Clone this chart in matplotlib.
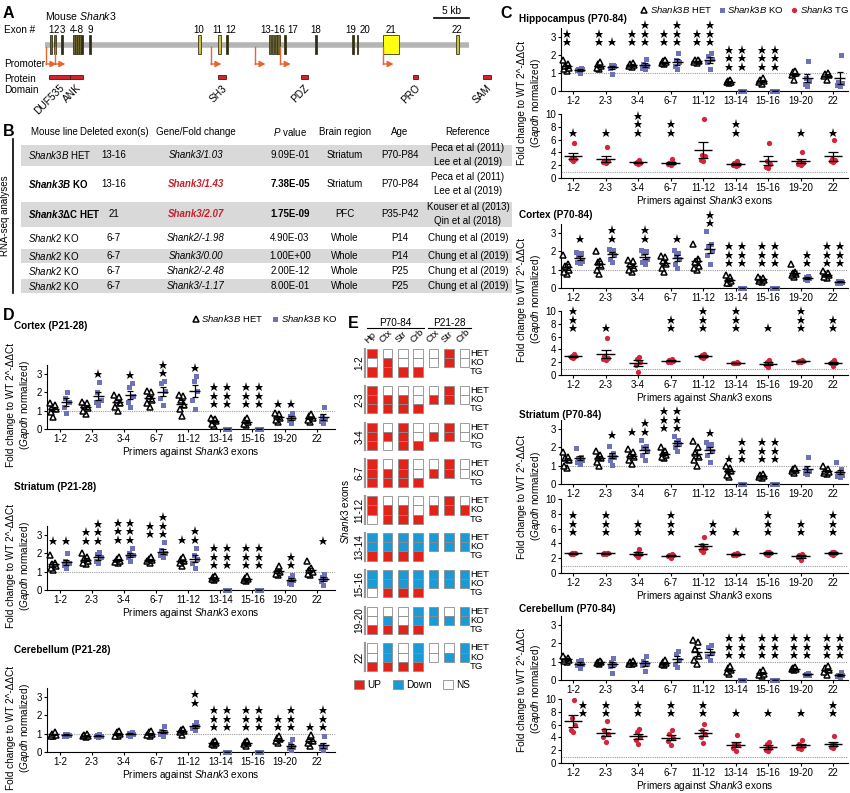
import numpy as np
import matplotlib
matplotlib.use("Agg")
import matplotlib.pyplot as plt
from matplotlib.patches import Rectangle, Patch
from matplotlib.lines import Line2D

plt.rcParams['font.family'] = ['Liberation Sans', 'DejaVu Sans']
plt.rcParams['mathtext.fontset'] = 'custom'
plt.rcParams['mathtext.rm'] = 'Liberation Sans'
plt.rcParams['mathtext.it'] = 'Liberation Sans:italic'
plt.rcParams['mathtext.bf'] = 'Liberation Sans:bold'
plt.rcParams['mathtext.bfit'] = 'Liberation Sans:italic:bold'
plt.rcParams['axes.linewidth'] = 0.8

#############################
# DATA                      #
#############################
primers = ["1-2", "2-3", "3-4", "6-7", "11-12", "13-14", "15-16", "19-20", "22"]

# Panel A: mouse Shank3 gene model, kb from exon 1
exon_start_kb = [0.75, 1.3, 2.35, 3.95, 4.3, 4.6, 4.9, 5.2, 6.3, 21.8, 24.7, 25.9,
                 32.0, 32.4, 32.8, 33.2, 34.2, 38.6, 43.9, 44.5, 48.3, 58.7]
exon_width_kb = [0.3, 0.3, 0.2, 0.3, 0.3, 0.25, 0.2, 0.2, 0.2, 0.45, 0.45, 0.2,
                 0.35, 0.3, 0.3, 0.3, 0.2, 0.2, 0.2, 0.2, 2.3, 0.45]
exon_kind = ['o', 'o', 'd', 'o', 'o', 'o', 'o', 'd', 'd', 'y', 'y', 'd',
             'o', 'o', 'o', 'o', 'd', 'd', 'd', 'd', 'Y', 'y']
exon_label = ['1', '2', '3', '4-8', '9', '10', '11', '12', '13-16', '17', '18', '19', '20', '21', '22']
exon_label_kb = [0.9, 1.6, 2.5, 4.6, 6.4, 22.0, 24.6, 26.5, 32.5, 35.4, 38.7, 43.7, 45.7, 49.4, 58.9]
gene_length_kb = 60.6
promoter_kb = [0.14, 1.4, 23.7, 30.0, 33.6, 48.3]
domain_name = ['DUF535', 'ANK', 'SH3', 'PDZ', 'PRO', 'SAM']
domain_start_kb = [0.64, 3.5, 24.7, 36.5, 52.5, 62.5]
domain_end_kb = [3.5, 5.4, 25.9, 37.5, 53.3, 63.7]

# Panel B: RNA-seq table
tbl_header = ["Mouse line", "Deleted exon(s)", "Gene/Fold change", r"$\it{P}$ value",
              "Brain region", "Age", "Reference"]
tbl_line = [r"$\it{Shank3B}$ HET", r"$\mathbfit{Shank3B}$ KO", r"$\mathbfit{Shank3}$ΔC HET",
            r"$\it{Shank2}$ KO", r"$\it{Shank2}$ KO", r"$\it{Shank2}$ KO", r"$\it{Shank2}$ KO"]
tbl_exons = ["13-16", "13-16", "21", "6-7", "6-7", "6-7", "6-7"]
tbl_gene = ["Shank3/1.03", "Shank3/1.43", "Shank3/2.07", "Shank2/-1.98",
            "Shank3/0.00", "Shank2/-2.48", "Shank3/-1.17"]
tbl_p = ["9.09E-01", "7.38E-05", "1.75E-09", "4.90E-03", "1.00E+00", "2.00E-12", "8.00E-01"]
tbl_region = ["Striatum", "Striatum", "PFC", "Whole", "Whole", "Whole", "Whole"]
tbl_age = ["P70-P84", "P70-P84", "P35-P42", "P14", "P14", "P25", "P25"]
tbl_ref = ["Peca et al (2011)\nLee et al (2019)", "Peca et al (2011)\nLee et al (2019)",
           "Kouser et al (2013)\nQin et al (2018)", "Chung et al (2019)", "Chung et al (2019)",
           "Chung et al (2019)", "Chung et al (2019)"]
tbl_signif = [False, True, True, False, False, False, False]

# Panel C: adult (P70-84) qPCR, fold change to WT
hip_het = [[1.1, 1.25, 1.3, 1.4, 1.5, 1.7], [1.2, 1.3, 1.4, 1.5, 1.6], [1.35, 1.4, 1.45, 1.5, 1.55],
           [1.5, 1.55, 1.6, 1.65, 1.7], [1.55, 1.6, 1.65, 1.7, 1.75], [0.45, 0.5, 0.5, 0.55, 0.6],
           [0.4, 0.5, 0.55, 0.6, 0.7], [0.6, 0.9, 1.0, 1.05, 1.1], [0.6, 0.85, 0.9, 0.95, 1.0]]
hip_ko = [[1.0, 1.15, 1.2, 1.25, 1.3], [0.95, 1.3, 1.4, 1.45, 1.45], [1.2, 1.3, 1.4, 1.5, 1.8],
          [1.2, 1.4, 1.6, 1.75, 2.1], [1.2, 1.6, 1.8, 1.95, 2.1], [0, 0, 0, 0, 0],
          [0, 0, 0, 0, 0], [0.3, 0.4, 0.55, 0.7, 1.65], [0.3, 0.35, 0.45, 0.5, 2.0]]
hip_tg = [[2.6, 2.9, 3.0, 3.2, 5.4], [2.4, 2.5, 2.6, 2.7, 4.8], [2.2, 2.3, 2.4, 2.5, 2.8],
          [2.1, 2.2, 2.3, 2.4, 3.0], [2.6, 2.8, 3.4, 3.6, 9.2], [1.9, 2.0, 2.1, 2.3, 2.6],
          [1.6, 1.7, 2.2, 2.6, 5.4], [2.1, 2.2, 2.4, 2.5, 4.0], [2.5, 2.6, 2.8, 3.0, 5.9]]
hip_het_stars = [2, 2, 2, 2, 2, 3, 3, 0, 0]
hip_ko_stars = [0, 1, 3, 3, 3, 3, 3, 0, 0]
hip_tg_stars = [1, 1, 3, 2, 0, 2, 0, 1, 1]

ctx_het = [[0.75, 0.9, 1.0, 1.2, 1.3, 1.8], [0.75, 1.0, 1.2, 1.4, 1.5, 2.0], [0.9, 1.0, 1.1, 1.3, 1.5, 1.55],
           [0.9, 1.1, 1.3, 1.5, 1.7, 1.75], [1.0, 1.1, 1.2, 1.4, 1.6, 2.4], [0.25, 0.3, 0.4, 0.5, 0.6, 0.7],
           [0.35, 0.4, 0.45, 0.5, 0.55, 0.6], [0.6, 0.7, 0.75, 0.8, 0.9, 1.3], [0.55, 0.6, 0.7, 0.75, 0.8, 0.95]]
ctx_ko = [[1.35, 1.4, 1.5, 1.8, 1.9, 1.95], [1.4, 1.6, 1.8, 2.0, 2.1, 2.15], [1.3, 1.4, 1.6, 1.9, 2.0, 2.1],
          [1.1, 1.3, 1.6, 1.8, 1.9, 2.1], [1.3, 1.8, 2.0, 2.3, 2.4, 3.1], [0, 0, 0, 0, 0],
          [0, 0, 0, 0, 0], [0.45, 0.5, 0.55, 0.6, 0.65], [0.25, 0.3, 0.35, 0.4, 0.4]]
ctx_tg = [[2.7, 2.8, 2.9, 3.0, 3.3], [2.4, 2.5, 2.6, 3.0, 5.8], [0.5, 1.6, 2.0, 2.5, 2.8],
          [2.0, 2.1, 2.2, 2.3, 2.5], [2.6, 2.8, 3.0, 3.1, 3.3], [1.8, 1.85, 1.9, 1.95, 2.0],
          [1.2, 1.6, 1.8, 2.0, 2.3], [2.0, 2.1, 2.15, 2.2, 2.3], [1.4, 1.8, 1.9, 2.0, 2.4]]
ctx_het_stars = [0, 0, 0, 0, 0, 3, 3, 0, 3]
ctx_ko_stars = [1, 2, 2, 1, 2, 3, 3, 2, 3]
ctx_tg_stars = [3, 1, 0, 2, 3, 3, 1, 3, 2]

str_het = [[0.9, 1.0, 1.3, 1.4, 1.5, 1.75], [1.0, 1.2, 1.4, 1.5, 1.6, 1.8], [1.1, 1.3, 1.5, 1.6, 1.75, 1.9],
           [1.4, 1.5, 1.6, 1.7, 1.8, 2.0], [1.0, 1.3, 1.5, 1.7, 2.0, 2.35], [0.4, 0.5, 0.7, 0.8, 0.9, 1.0],
           [0.35, 0.4, 0.45, 0.5, 0.55], [0.6, 0.7, 0.75, 0.8, 0.85], [0.55, 0.6, 0.65, 0.7, 0.8, 1.0]]
str_ko = [[1.1, 1.2, 1.3, 1.4, 1.5, 1.95], [1.05, 1.3, 1.5, 1.6, 1.7, 2.1], [1.3, 1.6, 1.8, 2.0, 2.1, 2.4],
          [1.8, 2.0, 2.2, 2.3, 2.4, 2.6], [1.2, 1.6, 1.8, 2.0, 2.2, 2.3], [0, 0, 0, 0, 0],
          [0, 0, 0, 0, 0], [0.55, 0.6, 0.7, 0.8, 1.5], [0.4, 0.45, 0.5, 0.6, 0.8, 1.2]]
str_tg = [[2.6, 2.6, 2.65, 2.7, 2.7], [2.6, 2.6, 2.65, 2.7, 2.75], [2.1, 2.4, 2.6, 2.7, 3.2],
          [2.0, 2.3, 2.4, 2.5, 2.6], [2.9, 3.1, 3.4, 3.8, 4.8], [2.4, 2.5, 2.55, 2.6, 2.7],
          [2.5, 2.6, 2.7, 2.8, 2.9], [1.7, 2.1, 2.3, 2.5, 2.6], [2.5, 2.6, 2.7, 2.8, 2.9]]
str_het_stars = [0, 0, 1, 3, 0, 1, 3, 0, 0]
str_ko_stars = [0, 1, 2, 3, 1, 3, 3, 0, 0]
str_tg_stars = [3, 3, 2, 3, 2, 1, 3, 2, 3]

crb_het = [[1.0, 1.05, 1.1, 1.15, 1.2, 1.3], [0.9, 0.95, 1.0, 1.0, 1.05], [0.85, 0.9, 0.95, 1.0, 1.05],
           [0.8, 0.9, 0.95, 1.0, 1.1], [0.9, 1.1, 1.3, 1.7, 2.1, 2.2], [0.35, 0.45, 0.55, 0.65, 0.75],
           [0.2, 0.3, 0.35, 0.45, 0.55], [0.55, 0.6, 0.62, 0.65, 0.7], [0.3, 0.45, 0.55, 0.65, 0.75]]
crb_ko = [[0.65, 0.8, 0.9, 1.05, 1.1], [0.4, 0.75, 0.9, 1.0, 1.2], [0.5, 0.8, 0.9, 1.05, 1.3],
          [0.7, 0.9, 1.1, 1.4, 1.6], [1.1, 1.3, 1.5, 1.8, 1.9], [0, 0, 0, 0, 0],
          [0, 0, 0, 0, 0], [0.25, 0.3, 0.3, 0.35, 0.4], [0.15, 0.2, 0.25, 0.3, 0.45]]
crb_tg = [[4.8, 5.2, 6.0, 7.0, 9.9], [3.3, 4.0, 4.5, 5.2, 6.6], [3.0, 3.6, 4.0, 4.9, 5.3],
          [2.8, 3.5, 3.9, 4.5, 5.2], [3.2, 4.1, 4.6, 5.2, 6.1], [1.9, 2.3, 2.8, 3.0, 4.4],
          [1.8, 2.0, 2.4, 2.9, 3.3], [2.2, 2.4, 2.6, 2.9, 3.6], [2.3, 2.5, 2.8, 3.0, 4.2]]
crb_het_stars = [0, 0, 0, 0, 0, 3, 3, 3, 3]
crb_ko_stars = [0, 0, 0, 0, 0, 3, 3, 3, 3]
crb_tg_stars = [2, 2, 2, 2, 2, 1, 1, 1, 2]

# Panel D: juvenile (P21-28) qPCR
dctx_het = [[0.65, 0.95, 1.1, 1.2, 1.3, 1.4], [0.8, 1.0, 1.15, 1.3, 1.4, 1.45], [1.0, 1.2, 1.4, 1.6, 1.75, 1.85],
            [1.2, 1.4, 1.6, 1.8, 2.0, 2.1], [0.7, 1.1, 1.3, 1.6, 1.8, 1.85], [0.15, 0.3, 0.45, 0.5, 0.55, 0.6],
            [0.2, 0.3, 0.4, 0.5, 0.6], [0.4, 0.5, 0.6, 0.7, 0.8, 0.85], [0.4, 0.5, 0.6, 0.7, 0.8]]
dctx_ko = [[0.9, 1.2, 1.5, 1.7, 2.05], [1.3, 1.5, 1.6, 2.0, 2.55], [1.2, 1.5, 1.8, 2.3, 2.5],
           [1.3, 1.7, 2.1, 2.5, 2.6], [1.1, 1.6, 2.1, 2.6, 2.9], [0, 0, 0, 0, 0],
           [0, 0, 0, 0, 0], [0.35, 0.5, 0.6, 0.7, 0.9], [0.35, 0.45, 0.55, 0.7, 1.2]]
dctx_het_stars = [0, 0, 0, 0, 0, 3, 3, 1, 0]
dctx_ko_stars = [0, 1, 1, 2, 1, 3, 3, 1, 0]

dstr_het = [[1.1, 1.2, 1.3, 1.4, 1.5, 1.9], [1.4, 1.5, 1.6, 1.7, 1.8, 2.0], [1.5, 1.55, 1.6, 1.7, 1.8],
            [1.5, 1.6, 1.65, 1.7, 1.8], [1.3, 1.45, 1.6, 1.7, 1.8], [0.55, 0.6, 0.65, 0.7, 0.75],
            [0.5, 0.55, 0.6, 0.65, 0.75], [0.8, 0.9, 1.0, 1.1, 1.3], [0.8, 0.9, 1.0, 1.1, 1.2, 1.6]]
dstr_ko = [[1.2, 1.35, 1.45, 1.6, 2.0], [1.45, 1.6, 1.8, 1.95, 2.1], [1.6, 1.8, 1.9, 2.0, 2.3],
           [1.8, 1.9, 2.0, 2.2, 2.6], [1.2, 1.5, 1.7, 1.9, 2.3], [0, 0, 0, 0, 0],
           [0, 0, 0, 0, 0], [0.35, 0.4, 0.55, 0.65, 0.8], [0.3, 0.5, 0.6, 0.7, 0.9]]
dstr_het_stars = [1, 2, 3, 2, 1, 3, 3, 0, 0]
dstr_ko_stars = [1, 3, 3, 3, 2, 3, 3, 2, 1]

dcrb_het = [[0.85, 0.9, 0.95, 1.0, 1.1], [0.8, 0.85, 0.9, 0.95, 1.0], [0.85, 0.9, 1.0, 1.1, 1.15],
            [0.85, 0.95, 1.0, 1.1, 1.15], [0.95, 1.1, 1.15, 1.2, 1.25], [0.4, 0.45, 0.5, 0.55, 0.6],
            [0.35, 0.45, 0.5, 0.55, 0.6], [0.5, 0.6, 0.7, 0.75, 0.85], [0.35, 0.5, 0.6, 0.7, 0.95]]
dcrb_ko = [[0.85, 0.9, 0.95, 1.0, 1.0], [0.8, 0.85, 0.9, 0.95, 1.0], [0.9, 0.95, 1.0, 1.05, 1.1],
           [0.9, 1.0, 1.1, 1.15, 1.4], [1.2, 1.3, 1.4, 1.5, 1.65], [0, 0, 0, 0, 0],
           [0, 0, 0, 0, 0], [0.1, 0.2, 0.3, 0.45, 0.7], [0.1, 0.2, 0.3, 0.4, 0.85]]
dcrb_het_stars = [0, 0, 0, 0, 0, 3, 3, 2, 1]
dcrb_ko_stars = [0, 0, 0, 0, 2, 3, 3, 3, 3]

# Panel E: summary of calls, U=up, D=down, N=n.s.
e_columns = ["Hp", "Ctx", "Str", "Crb", "Ctx", "Str", "Crb"]
e_calls = [
    ["UNU", "NUU", "NNU", "NNU", "NN", "UU", "NN"],
    ["UUU", "NUU", "NUU", "NNU", "NU", "UU", "NN"],
    ["UUU", "NUN", "UUU", "NNU", "NU", "UU", "NN"],
    ["UUU", "NUU", "UUU", "NNU", "NU", "UU", "NN"],
    ["UUN", "NUU", "NUU", "NNU", "NU", "UU", "NU"],
    ["DDU", "DDU", "DDU", "DDU", "DD", "DD", "DD"],
    ["DDN", "DDU", "DDU", "DDU", "DD", "DD", "DD"],
    ["NNU", "NDU", "NNU", "DDU", "DD", "ND", "DD"],
    ["NNU", "DDU", "NNU", "DDU", "NN", "ND", "DD"],
]
e_genotypes = ["HET", "KO", "TG"]

#############################
# STYLE / LAYOUT            #
#############################
W, H = 850, 793
FS = 7.2
TFS = 7.0
KO_COLOR = '#6e72b8'
TG_COLOR = '#d5253c'
UP_COLOR = '#e2231a'
DOWN_COLOR = '#1b9ad6'
HET_STYLE = dict(marker='^', ms=4.2, mfc='white', mec='black', mew=1.1)
KO_STYLE = dict(marker='s', ms=3.6, color=KO_COLOR, mew=0)
TG_STYLE = dict(marker='o', ms=3.8, color=TG_COLOR, mew=0)
JIT = [0.0, -0.07, 0.07, -0.035, 0.035, -0.1, 0.1]

fig = plt.figure(figsize=(W / 100, H / 100), dpi=100)
ov = fig.add_axes([0, 0, 1, 1])
ov.set_xlim(0, W)
ov.set_ylim(H, 0)
ov.axis('off')


def px_axes(x0, y0, x1, y1):
    return fig.add_axes([x0 / W, 1 - y1 / H, (x1 - x0) / W, (y1 - y0) / H])


def letter(x, y, s):
    ov.text(x, y, s, fontsize=11.5, fontweight='bold', ha='left', va='center')


##################################################
# A: gene model                                  #
##################################################
letter(3, 14, "A")
axA = px_axes(0, 0, 500, 110)
axA.set_xlim(-45 / 7, 455 / 7)
axA.set_ylim(110, 0)
axA.axis('off')
axA.plot([0, gene_length_kb], [45, 45], color='#b5b5b5', lw=4, solid_capstyle='butt', zorder=1)
fills = {'d': '#2e2c18', 'o': '#6a6330', 'y': '#c9c43e', 'Y': '#ffff10'}
for s, w, k in zip(exon_start_kb, exon_width_kb, exon_kind):
    axA.add_patch(Rectangle((s, 35), w, 19, fc=fills[k], ec='#3a3719', lw=0.6, zorder=2))
for lab, x in zip(exon_label, exon_label_kb):
    axA.text(x, 30, lab, fontsize=7.0, ha='center', va='center')
orange = '#e8652e'
for p in promoter_kb:
    axA.plot([p, p], [47, 64], color=orange, lw=1, zorder=2)
    axA.annotate('', xy=(p + 1.5, 64), xytext=(p, 64),
                 arrowprops=dict(arrowstyle='-|>,head_length=0.35,head_width=0.18',
                                 color=orange, lw=1, shrinkA=0, shrinkB=0))
for name, s, e in zip(domain_name, domain_start_kb, domain_end_kb):
    axA.add_patch(Rectangle((s, 75), e - s, 4, fc='#d0262b', ec='#5c1010', lw=0.6))
    axA.text((s + e) / 2, 83, name, fontsize=7.3, rotation=45, ha='right', va='top',
             rotation_mode='anchor')
axA.plot([55.6, 60.6], [18, 18], color='k', lw=1.2)
axA.text(58.1, 11, "5 kb", fontsize=7.3, ha='center', va='center')
axA.text(0, 16, r"Mouse $\it{Shank3}$", fontsize=7.6, ha='left', va='center')
for txt, y in [("Exon #", 30), ("Promoter", 64), ("Protein", 79), ("Domain", 90)]:
    ov.text(4, y, txt, fontsize=7.2, ha='left', va='center')

##################################################
# B: RNA-seq table                               #
##################################################
letter(3, 132, "B")
col_x = [54, 114, 196, 290, 345, 400, 468]
row_top = [144.5, 165.5, 202, 226.5, 249, 263, 279]
row_bot = [165.5, 202, 226.5, 249, 263, 279, 293]
for i in range(len(tbl_line)):
    if i % 2 == 0:
        ov.add_patch(Rectangle((21, row_top[i]), 491, row_bot[i] - row_top[i], fc='#d9d9d9', ec='none'))
for h, x in zip(tbl_header, col_x):
    ov.text(x, 132, h, fontsize=TFS, ha='center', va='center')
for i in range(len(tbl_line)):
    y = (row_top[i] + row_bot[i]) / 2
    wt = 'bold' if tbl_signif[i] else 'normal'
    ov.text(28, y, tbl_line[i], fontsize=TFS, ha='left', va='center', fontweight=wt)
    ov.text(col_x[1], y, tbl_exons[i], fontsize=TFS, ha='center', va='center')
    ov.text(col_x[2], y, tbl_gene[i], fontsize=TFS, ha='center', va='center', style='italic',
            fontweight=wt, color='#c8202a' if tbl_signif[i] else 'black')
    ov.text(col_x[3], y, tbl_p[i], fontsize=TFS, ha='center', va='center', fontweight=wt)
    ov.text(col_x[4], y, tbl_region[i], fontsize=TFS, ha='center', va='center')
    ov.text(col_x[5], y, tbl_age[i], fontsize=TFS, ha='center', va='center')
    ov.text(col_x[6], y, tbl_ref[i], fontsize=TFS, ha='center', va='center', linespacing=1.5)
ov.plot([13, 13], [139, 293], color='k', lw=1.2)
ov.text(5, 216, "RNA-seq analyses", fontsize=TFS, rotation=90, ha='center', va='center')


##################################################
# C and D: dot plots                             #
##################################################
def dot_axes(box, xlim, ylim, yticks, xlabel):
    ax = px_axes(*box)
    ax.set_xlim(*xlim)
    ax.set_ylim(*ylim)
    ax.set_yticks(yticks)
    ax.set_xticks(range(len(primers)))
    ax.set_xticklabels(primers)
    for s in ['top', 'right']:
        ax.spines[s].set_visible(False)
    ax.tick_params(labelsize=7.0, length=2.5, width=0.8, pad=1.2)
    ax.axhline(1, color='#9a9a9a', lw=0.8, ls=(0, (1, 1)), zorder=0)
    ax.patch.set_visible(False)
    if xlabel:
        ax.set_xlabel(r"Primers against $\it{Shank3}$ exons", fontsize=FS, labelpad=0.8)
    return ax


def px_per_unit(ax):
    ylo, yhi = ax.get_ylim()
    return ax.get_position().height * H / (yhi - ylo)


def draw_group(ax, x, vals, style, half, cap):
    v = np.asarray(vals, float)
    ax.plot(x + np.array(JIT[:len(v)]), v, ls='none', clip_on=False, zorder=3, **style)
    m = v.mean()
    se = v.std(ddof=1) / np.sqrt(len(v))
    ax.plot([x - half, x + half], [m, m], color='k', lw=1.0, zorder=4, solid_capstyle='butt')
    ax.errorbar(x, m, yerr=se, fmt='none', ecolor='k', elinewidth=0.9, capsize=cap,
                capthick=0.9, zorder=4)


def draw_stars(ax, x, base, n):
    step = 8.5 / px_per_unit(ax)
    for k in range(n):
        ax.plot(x, base + k * step, marker='*', ms=6.5, color='k', mew=0, clip_on=False, zorder=5)


def pair_plot(ax, het, ko, het_stars, ko_stars):
    for i in range(len(primers)):
        draw_group(ax, i - 0.2, het[i], HET_STYLE, 0.17, 2.3)
        draw_group(ax, i + 0.2, ko[i], KO_STYLE, 0.17, 2.3)
        gmax = max(max(het[i]), max(ko[i]))
        base = 1.35 if gmax < 1.4 else max(2.7, gmax + 0.45)
        draw_stars(ax, i - 0.2, base, het_stars[i])
        draw_stars(ax, i + 0.2, base, ko_stars[i])


def tg_plot(ax, tg, tg_stars, base):
    for i in range(len(primers)):
        draw_group(ax, i, tg[i], TG_STYLE, 0.28, 3.4)
        sx = i + 0.3 if max(tg[i]) > base - 0.8 else i
        draw_stars(ax, sx, base, tg_stars[i])


ylab = "Fold change to WT 2^-ΔΔCt\n" + r"($\it{Gapdh}$ normalized)"

# C
letter(500, 13, "C")
c_xlim = (-0.37, 8.46)
c_boxes = [(19, (28, 91), (114, 178), 7.1), (215, (224, 288), (311, 375), 7.3),
           (415, (420, 484), (499, 573), 5.5), (609, (616, 680), (699, 763), 7.8)]
c_titles = ["Hippocampus (P70-84)", "Cortex (P70-84)", "Striatum (P70-84)", "Cerebellum (P70-84)"]
c_sets = [(hip_het, hip_ko, hip_tg, hip_het_stars, hip_ko_stars, hip_tg_stars),
          (ctx_het, ctx_ko, ctx_tg, ctx_het_stars, ctx_ko_stars, ctx_tg_stars),
          (str_het, str_ko, str_tg, str_het_stars, str_ko_stars, str_tg_stars),
          (crb_het, crb_ko, crb_tg, crb_het_stars, crb_ko_stars, crb_tg_stars)]
for title, (ty, top, bot, tgbase), (het, ko, tg, hs, ks, ts) in zip(c_titles, c_boxes, c_sets):
    ov.text(519, ty, title, fontsize=FS, fontweight='bold', ha='left', va='center')
    ax1 = dot_axes((561, top[0], 848, top[1]), c_xlim, (0, 3.5), [0, 1, 2, 3], False)
    pair_plot(ax1, het, ko, hs, ks)
    ax2 = dot_axes((561, bot[0], 848, bot[1]), c_xlim, (0, 10), [0, 2, 4, 6, 8, 10], True)
    tg_plot(ax2, tg, ts, tgbase)
    ov.text(530, (top[0] + bot[1]) / 2, ylab, fontsize=FS, rotation=90, ha='center',
            va='center', linespacing=1.25)

c_handles = [Line2D([], [], ls='none', **HET_STYLE), Line2D([], [], ls='none', **KO_STYLE),
             Line2D([], [], ls='none', **TG_STYLE)]
fig.legend(c_handles, [r"$\it{Shank3B}$ HET", r"$\it{Shank3B}$ KO", r"$\it{Shank3}$ TG"],
           loc='upper right', bbox_to_anchor=(849 / W, 1 - 4 / H), ncol=3, frameon=False,
           fontsize=6.8, handlelength=0.7, handletextpad=0.25, columnspacing=0.7,
           borderpad=0, borderaxespad=0)

# D
letter(3, 315, "D")
d_xlim = (-0.4, 8.57)
d_boxes = [(326, (365, 429)), (487, (526, 590)), (650, (688, 752))]
d_titles = ["Cortex (P21-28)", "Striatum (P21-28)", "Cerebellum (P21-28)"]
d_sets = [(dctx_het, dctx_ko, dctx_het_stars, dctx_ko_stars),
          (dstr_het, dstr_ko, dstr_het_stars, dstr_ko_stars),
          (dcrb_het, dcrb_ko, dcrb_het_stars, dcrb_ko_stars)]
for title, (ty, box), (het, ko, hs, ks) in zip(d_titles, d_boxes, d_sets):
    ov.text(14, ty, title, fontsize=FS, fontweight='bold', ha='left', va='center')
    ax = dot_axes((47, box[0], 335, box[1]), d_xlim, (0, 3.5), [0, 1, 2, 3], True)
    pair_plot(ax, het, ko, hs, ks)
    ov.text(19, (box[0] + box[1]) / 2 + 8, ylab, fontsize=FS, rotation=90, ha='center',
            va='center', linespacing=1.25)
fig.legend(c_handles[:2], [r"$\it{Shank3B}$ HET", r"$\it{Shank3B}$ KO"],
           loc='center', bbox_to_anchor=(265 / W, 1 - 319 / H), ncol=2, frameon=False,
           fontsize=6.8, handlelength=0.7, handletextpad=0.25, columnspacing=0.9,
           borderpad=0, borderaxespad=0)

##################################################
# E: summary grid                                #
##################################################
letter(348, 324, "E")
axE = px_axes(340, 300, 495, 700)
axE.set_xlim((340 - 372) / 15.4, (495 - 372) / 15.4)
axE.set_ylim((700 - 349) / 9.2, (300 - 349) / 9.2)
axE.axis('off')
cell_fc = {'U': UP_COLOR, 'D': DOWN_COLOR, 'N': 'white'}
for i, row in enumerate(primers):
    for j, col in enumerate(e_calls[i]):
        for k, c in enumerate(col):
            axE.add_patch(Rectangle((j - 0.31, 4 * i + k), 0.62, 1, fc=cell_fc[c],
                                    ec='#8c8c8c', lw=0.6))
    for k, g in enumerate(e_genotypes):
        axE.text(6.36, 4 * i + k + 0.5, g, fontsize=6.8, ha='left', va='center')
    axE.plot([-0.43, -0.43], [4 * i, 4 * i + 3], color='#9a9a9a', lw=1.6)
    axE.text(-0.8, 4 * i + 1.5, row, fontsize=FS, rotation=90, ha='center', va='center')
for j, c in enumerate(e_columns):
    axE.text(j - 0.2, -0.45, c, fontsize=6.8, rotation=45, ha='left', va='bottom',
             rotation_mode='anchor')
for lab, x0, x1 in [("P70-84", -0.35, 3.35), ("P21-28", 3.65, 6.4)]:
    axE.plot([x0, x1], [-2.3, -2.3], color='k', lw=0.8, clip_on=False)
    axE.text((x0 + x1) / 2, -2.85, lab, fontsize=FS, ha='center', va='center')
axE.text(-1.75, 17.7, r"$\it{Shank3}$ exons", fontsize=FS, rotation=90, ha='center', va='center')
e_handles = [Patch(fc=UP_COLOR, ec='#8c8c8c', lw=0.6), Patch(fc=DOWN_COLOR, ec='#8c8c8c', lw=0.6),
             Patch(fc='white', ec='#8c8c8c', lw=0.6)]
fig.legend(e_handles, ["UP", "Down", "NS"], loc='center', bbox_to_anchor=(412 / W, 1 - 685 / H),
           ncol=3, frameon=False, fontsize=FS, handlelength=1.0, handleheight=1.0,
           handletextpad=0.3, columnspacing=1.2, borderpad=0, borderaxespad=0)

plt.savefig('out.png', dpi=100)
